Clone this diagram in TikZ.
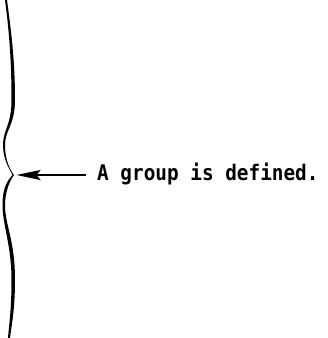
\documentclass[tikz,border=0pt]{standalone}
\usepackage{fontspec}
\newfontfamily\labelfont{DejaVu Sans Mono}
\usetikzlibrary{arrows.meta}
\tikzset{
  bracefill/.style={fill=black},
  pointer/.style={line width=2pt, -{Stealth[length=24pt,width=10pt,inset=4pt]}},
  labeltext/.style={font=\labelfont\bfseries\fontsize{21.5}{24}\selectfont, inner sep=0pt, anchor=base west}
}
\begin{document}
\begin{tikzpicture}[x=1pt,y=-1pt]
\useasboundingbox (0,0) rectangle (328,338);
\fill[bracefill] (5,0) .. controls (9,30) and (11.5,60) .. (11.5,100)
  .. controls (11.5,125) and (3,130) .. (3,145)
  .. controls (3,160) and (10,170) .. (12.5,175)
  .. controls (6,182) and (2.5,190) .. (2.5,205)
  .. controls (2.5,225) and (11.5,245) .. (11.5,280)
  .. controls (11.5,310) and (9,325) .. (8,338)
  -- (10,338)
  .. controls (11.5,325) and (15,310) .. (15,280)
  .. controls (15,240) and (5,225) .. (5,205)
  .. controls (5,192) and (10,180) .. (14,175)
  .. controls (10,170) and (5,160) .. (5,145)
  .. controls (5,130) and (15,125) .. (15,100)
  .. controls (15,60) and (11,30) .. (7,0) -- cycle;
\coordinate (tip) at (16.5,175);
\node[labeltext] (lbl) at (97,180.5) {\scalebox{0.9}[1]{A group is defined.}};
\coordinate (tail) at (86,175);
\draw[pointer] (tail) -- (tip);
\end{tikzpicture}
\end{document}
